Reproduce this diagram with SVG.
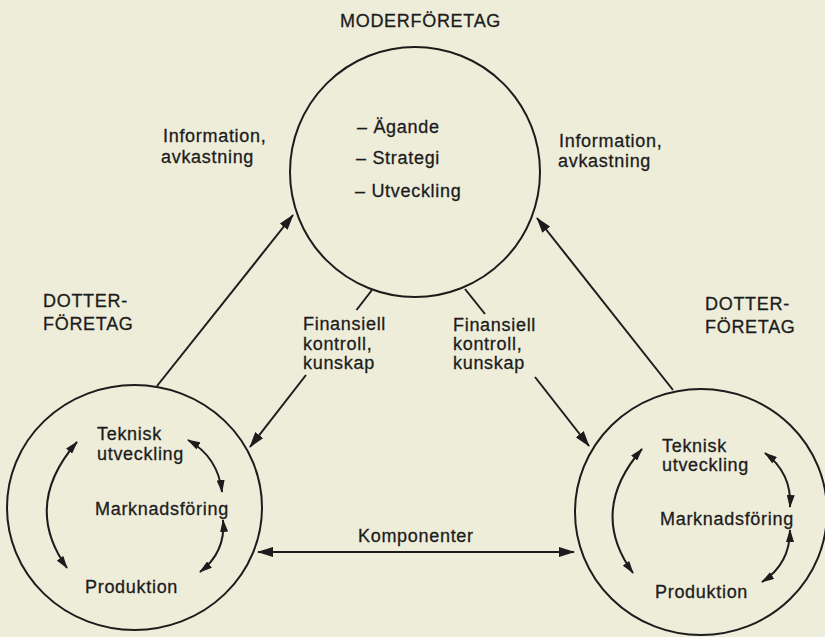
<svg xmlns="http://www.w3.org/2000/svg" width="825" height="637" viewBox="0 0 825 637">
<defs>
<style>
text{font-family:"Liberation Sans",Arial,sans-serif;font-size:18px;fill:#1c1c1c;stroke:#1c1c1c;stroke-width:0.3;letter-spacing:0.7px}
.shape{fill:none;stroke:#1c1c1c;stroke-width:2}
.edge{fill:none;stroke:#1c1c1c;stroke-width:2}
</style>
<marker id="ah" viewBox="0 0 16 10" refX="15" refY="5" markerWidth="16" markerHeight="10" markerUnits="userSpaceOnUse" orient="auto-start-reverse"><path d="M0,0 L16,5 L0,10 z" fill="#1c1c1c"/></marker>
<marker id="ahs" viewBox="0 0 13 8" refX="12" refY="4" markerWidth="13" markerHeight="8" markerUnits="userSpaceOnUse" orient="auto-start-reverse"><path d="M0,0 L13,4 L0,8 z" fill="#1c1c1c"/></marker>
</defs>
<rect x="0" y="0" width="825" height="637" fill="#eeedda"/>

<g id="moderforetag">
<circle class="shape" cx="415" cy="172" r="125"/>
<text x="340" y="27">MODERFÖRETAG</text>
<text x="357" y="133">– Ägande</text>
<text x="356" y="164">– Strategi</text>
<text x="355" y="197">– Utveckling</text>
</g>

<g id="dotter-vanster">
<ellipse class="shape" cx="134.5" cy="507.5" rx="127.5" ry="122.5"/>
<text x="43" y="307">DOTTER-</text>
<text x="43" y="330">FÖRETAG</text>
<text x="97" y="440">Teknisk</text>
<text x="97" y="460">utveckling</text>
<text x="95" y="515">Marknadsföring</text>
<text x="85" y="593">Produktion</text>
<path class="edge" d="M77,442 Q22,505 67,568" marker-start="url(#ahs)" marker-end="url(#ahs)"/>
<path class="edge" d="M188,440 Q218,457 222,492" marker-start="url(#ahs)" marker-end="url(#ahs)"/>
<path class="edge" d="M223,520 Q226,552 200,572" marker-start="url(#ahs)" marker-end="url(#ahs)"/>
</g>

<g id="dotter-hoger">
<ellipse class="shape" cx="701" cy="512" rx="126" ry="123"/>
<text x="705" y="310">DOTTER-</text>
<text x="705" y="333">FÖRETAG</text>
<text x="662" y="452">Teknisk</text>
<text x="662" y="471">utveckling</text>
<text x="660" y="525">Marknadsföring</text>
<text x="655" y="598">Produktion</text>
<path class="edge" d="M642,449 Q588,511 633,573" marker-start="url(#ahs)" marker-end="url(#ahs)"/>
<path class="edge" d="M765,453 Q792,473 790,507" marker-start="url(#ahs)" marker-end="url(#ahs)"/>
<path class="edge" d="M790,530 Q790,564 762,582" marker-start="url(#ahs)" marker-end="url(#ahs)"/>
</g>

<g id="connectors">
<line class="edge" x1="157" y1="386" x2="293" y2="215" marker-end="url(#ah)"/>
<line class="edge" x1="673" y1="390" x2="537" y2="218" marker-end="url(#ah)"/>
<line class="edge" x1="372" y1="290" x2="356.5" y2="310"/>
<line class="edge" x1="306" y1="375" x2="250" y2="447" marker-end="url(#ah)"/>
<line class="edge" x1="465" y1="289" x2="485" y2="314"/>
<line class="edge" x1="535" y1="377" x2="589" y2="446" marker-end="url(#ah)"/>
<line class="edge" x1="258" y1="552" x2="574" y2="552" marker-start="url(#ah)" marker-end="url(#ah)"/>
<text x="163" y="142">Information,</text>
<text x="161" y="163">avkastning</text>
<text x="559" y="147">Information,</text>
<text x="558" y="167">avkastning</text>
<text x="303" y="330">Finansiell</text>
<text x="303" y="350">kontroll,</text>
<text x="303" y="369">kunskap</text>
<text x="453" y="331">Finansiell</text>
<text x="453" y="350">kontroll,</text>
<text x="453" y="369">kunskap</text>
<text x="358" y="542">Komponenter</text>
</g>
</svg>
